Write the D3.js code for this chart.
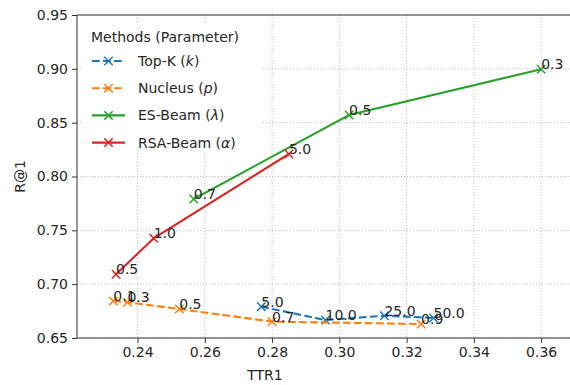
<!DOCTYPE html>
<html>
<head>
<meta charset="utf-8">
<script src="https://cdn.jsdelivr.net/npm/d3@7"></script>
<style>
  html, body { margin: 0; padding: 0; background: #fff; }
  svg text { font-family: "DejaVu Sans", sans-serif; fill: #262626; }
</style>
</head>
<body>
<svg id="chart" width="570" height="385"></svg>
<script>
// ---- data ----
const topKParams = ["5.0", "10.0", "25.0", "50.0"];
const topKTTR = [0.2768, 0.2959, 0.3134, 0.3280];
const topKR1 = [0.6791, 0.6667, 0.6707, 0.6686];

const nucleusParams = ["0.1", "0.3", "0.5", "0.7", "0.9"];
const nucleusTTR = [0.2328, 0.2370, 0.2524, 0.2800, 0.3243];
const nucleusR1 = [0.6843, 0.6832, 0.6769, 0.6652, 0.6630];

const esParams = ["0.7", "0.5", "0.3"];
const esTTR = [0.2567, 0.3029, 0.3600];
const esR1 = [0.7791, 0.8571, 0.8996];

const rsaParams = ["0.5", "1.0", "5.0"];
const rsaTTR = [0.2336, 0.2448, 0.2850];
const rsaR1 = [0.7092, 0.7426, 0.8209];

const xTicks = [0.24, 0.26, 0.28, 0.30, 0.32, 0.34, 0.36];
const yTicks = [0.65, 0.70, 0.75, 0.80, 0.85, 0.90, 0.95];

const series = [
  { name: "Top-K", sym: "k", params: topKParams, x: topKTTR, y: topKR1, color: "#1f77b4", dashed: true },
  { name: "Nucleus", sym: "p", params: nucleusParams, x: nucleusTTR, y: nucleusR1, color: "#ff7f0e", dashed: true },
  { name: "ES-Beam", sym: "λ", params: esParams, x: esTTR, y: esR1, color: "#2ca02c", dashed: false },
  { name: "RSA-Beam", sym: "α", params: rsaParams, x: rsaTTR, y: rsaR1, color: "#d62728", dashed: false }
];

(function draw() {
  const svg = d3.select("#chart");
  const pLeft = 77, pTop = 15, pBottom = 338;
  const x = d3.scaleLinear().domain([0.222, 0.372]).range([pLeft, 581.5]);
  const y = d3.scaleLinear().domain([0.65, 0.95]).range([pBottom, pTop]);
  const pRight = x.range()[1];
  const FS = 14;

  // grid
  const grid = svg.append("g");
  grid.selectAll("line.gx").data(xTicks).enter().append("line")
    .attr("x1", d => x(d)).attr("x2", d => x(d)).attr("y1", pTop).attr("y2", pBottom)
    .attr("stroke", "#b8b8b8").attr("stroke-width", 0.9).attr("stroke-dasharray", "1.1,1.9");
  grid.selectAll("line.gy").data(yTicks).enter().append("line")
    .attr("x1", pLeft).attr("x2", pRight).attr("y1", d => y(d)).attr("y2", d => y(d))
    .attr("stroke", "#b8b8b8").attr("stroke-width", 0.9).attr("stroke-dasharray", "1.1,1.9");

  // axes
  const xAxis = d3.axisBottom(x).tickValues(xTicks).tickFormat(d3.format(".2f")).tickSize(5).tickPadding(4);
  const yAxis = d3.axisLeft(y).tickValues(yTicks).tickFormat(d3.format(".2f")).tickSize(5).tickPadding(4);
  const gx = svg.append("g").attr("transform", `translate(0,${pBottom})`).call(xAxis);
  const gy = svg.append("g").attr("transform", `translate(${pLeft},0)`).call(yAxis);
  [gx, gy].forEach(g => {
    g.select(".domain").remove();
    g.selectAll(".tick line").attr("stroke", "#333").attr("stroke-width", 1);
    g.selectAll(".tick text").attr("font-size", FS).attr("font-family", "DejaVu Sans").attr("fill", "#262626");
  });

  // spines
  svg.append("line").attr("x1", pLeft).attr("x2", pLeft).attr("y1", pTop).attr("y2", pBottom).attr("stroke", "#333").attr("stroke-width", 1);
  svg.append("line").attr("x1", pLeft).attr("x2", pRight).attr("y1", pBottom).attr("y2", pBottom).attr("stroke", "#333").attr("stroke-width", 1);
  svg.append("line").attr("x1", pLeft).attr("x2", pRight).attr("y1", pTop).attr("y2", pTop).attr("stroke", "#333").attr("stroke-width", 1);

  // axis labels
  svg.append("text").attr("x", 265).attr("y", 380).attr("text-anchor", "middle")
    .attr("font-size", FS).text("TTR1");
  svg.append("text").attr("transform", `translate(25,${(pTop + pBottom) / 2}) rotate(-90)`).attr("text-anchor", "middle")
    .attr("font-size", FS).text("R@1");

  function xMarker(g, cx, cy, color, r) {
    g.append("path")
      .attr("d", `M${cx - r},${cy - r}L${cx + r},${cy + r}M${cx - r},${cy + r}L${cx + r},${cy - r}`)
      .attr("stroke", color).attr("stroke-width", 1.5).attr("fill", "none");
  }

  // series
  const line = d3.line().x(d => x(d[0])).y(d => y(d[1]));
  const plot = svg.append("g");
  series.forEach(s => {
    const pts = s.x.map((v, i) => [v, s.y[i]]);
    plot.append("path").datum(pts).attr("d", line)
      .attr("fill", "none").attr("stroke", s.color).attr("stroke-width", 2.1)
      .attr("stroke-dasharray", s.dashed ? "7.7,3.3" : null);
    pts.forEach(p => xMarker(plot, x(p[0]), y(p[1]), s.color, 4.2));
  });
  // annotations
  series.forEach(s => {
    s.params.forEach((lab, i) => {
      svg.append("text").attr("x", x(s.x[i])).attr("y", y(s.y[i]))
        .attr("font-size", FS).attr("fill", "#262626").text(lab);
    });
  });

  // legend
  const lg = svg.append("g");
  lg.append("rect").attr("x", 83).attr("y", 24).attr("width", 178).attr("height", 129)
    .attr("fill", "#fff").attr("stroke", "none");
  lg.append("text").attr("x", 91).attr("y", 42).attr("font-size", FS).text("Methods (Parameter)");
  series.forEach((s, i) => {
    const cy = 61 + i * 27.2;
    lg.append("line").attr("x1", 92).attr("x2", 125).attr("y1", cy).attr("y2", cy)
      .attr("stroke", s.color).attr("stroke-width", 2.1)
      .attr("stroke-dasharray", s.dashed ? "7.7,3.3" : null);
    xMarker(lg, 108.5, cy, s.color, 4.2);
    const t = lg.append("text").attr("x", 138).attr("y", cy + 5).attr("font-size", FS);
    t.append("tspan").text(s.name + " (");
    t.append("tspan").attr("font-style", "italic").text(s.sym);
    t.append("tspan").text(")");
  });
})();
</script>
</body>
</html>
